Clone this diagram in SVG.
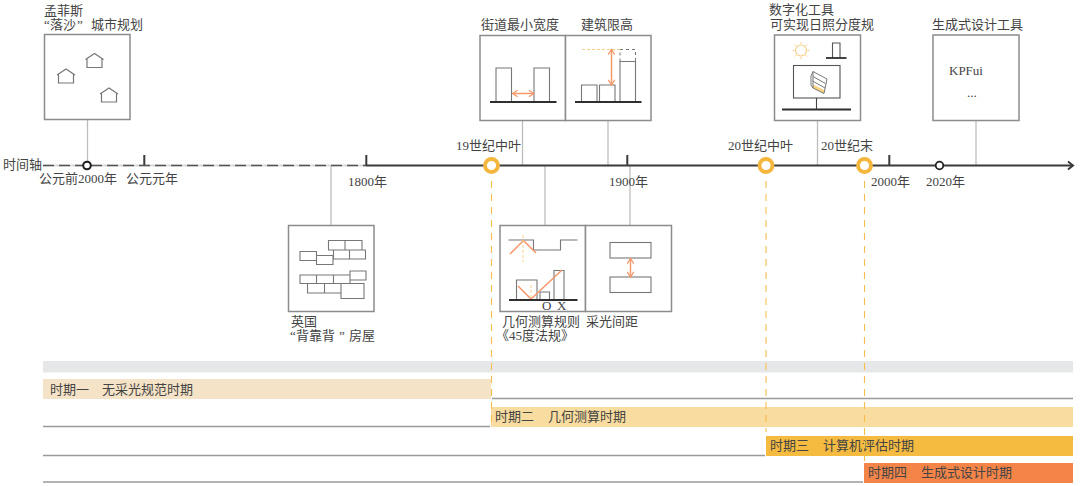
<svg xmlns="http://www.w3.org/2000/svg" width="1080" height="486" viewBox="0 0 1080 486">
<style>
text{font-family:"Liberation Serif","Noto Sans CJK SC",serif;font-size:13px;fill:#444}
.box{fill:#fff;stroke:#8c8c8c;stroke-width:1.5}
.lead{stroke:#bdbdbd;stroke-width:1.3;fill:none}
.thin{fill:none;stroke:#777;stroke-width:1.1}
.ground{stroke:#2e2e2e;stroke-width:1.8;fill:none}
.orange{stroke:#f6986a;stroke-width:1.5;fill:none}
.guide{stroke:#f6bd4f;stroke-width:1.1;stroke-dasharray:7 6;fill:none}
.ax{stroke:#3a3a3a;stroke-width:2;fill:none}
.rule{stroke:#9a9a9a;stroke-width:1.4}
</style>
<defs>
<marker id="ah" viewBox="0 0 8 8" refX="6.500" refY="4" markerWidth="7.500" markerHeight="7.500" markerUnits="userSpaceOnUse" orient="auto-start-reverse"><path d="M1 .5L6.500 4L1 7.500" fill="none" stroke="#f6986a" stroke-width="1.300"/></marker>
<path id="house" d="M-9 0L0 -6L9 0M-7.500 -1V8H7.500V-1" fill="none" stroke="#777" stroke-width="1.200"/>
</defs>
<rect x="43" y="361" width="1030" height="11.500" fill="#e6e7e8"/>
<g id="rules">
<line class="rule" x1="492" y1="398.500" x2="1073" y2="398.500"/>
<line class="rule" x1="43" y1="426.500" x2="490" y2="426.500"/>
<line class="rule" x1="43" y1="455.500" x2="765" y2="455.500"/>
<line class="rule" x1="43" y1="482" x2="863" y2="482"/>
</g>
<g id="period1"><rect x="43" y="379" width="448" height="20" fill="#f5e3c8"/><text x="50" y="394">时期一<tspan x="102">无采光规范时期</tspan></text></g>
<g id="period2"><rect x="491" y="407" width="582" height="20" fill="#f9dc9f"/><text x="495" y="421">时期二<tspan x="548">几何测算时期</tspan></text></g>
<g id="period3"><rect x="766" y="436" width="307" height="20" fill="#f4bb40"/><text x="770" y="450">时期三<tspan x="823">计算机评估时期</tspan></text></g>
<g id="period4"><rect x="864" y="463" width="209" height="20" fill="#f58449"/><text x="868" y="477">时期四<tspan x="921">生成式设计时期</tspan></text></g>
<g id="connectors">
<line class="lead" x1="87.500" y1="120" x2="87.500" y2="165"/>
<line class="lead" x1="331" y1="165" x2="331" y2="225"/>
<line class="lead" x1="522.500" y1="121" x2="522.500" y2="165"/>
<line class="lead" x1="608" y1="121" x2="608" y2="165"/>
<line class="lead" x1="545" y1="166" x2="545" y2="225"/>
<line class="lead" x1="630" y1="166" x2="630" y2="225"/>
<line class="lead" x1="817.500" y1="121" x2="817.500" y2="165"/>
<line class="lead" x1="976" y1="121" x2="976" y2="165"/>
<line class="guide" x1="491.500" y1="181" x2="491.500" y2="427"/>
<line class="guide" x1="766" y1="181" x2="766" y2="432"/>
<line class="guide" x1="864.500" y1="181" x2="864.500" y2="462"/>
</g>
<g id="axis">
<line x1="43" y1="165.500" x2="366" y2="165.500" stroke="#d8d8d8" stroke-width="2.200"/>
<line x1="43" y1="165.500" x2="366" y2="165.500" stroke="#555" stroke-width="1.500" stroke-dasharray="11 5"/>
<line class="ax" x1="366" y1="165.500" x2="1072" y2="165.500"/>
<path class="ax" d="M1068 161.500L1073 165.500L1068 169.500"/>
<path class="ax" stroke-width="1.600" d="M144.300 155V165M366.300 155V165M627.300 155V165M889.300 155V165"/>
<circle cx="87" cy="165.500" r="3.800" fill="#fff" stroke="#1f1f1f" stroke-width="2"/>
<circle cx="939.500" cy="165.500" r="3.800" fill="#fff" stroke="#1f1f1f" stroke-width="1.800"/>
<circle cx="491.500" cy="165.500" r="6.500" fill="#fff" stroke="#f4b63c" stroke-width="3.800"/>
<circle cx="766" cy="165.500" r="6.500" fill="#fff" stroke="#f4b63c" stroke-width="3.800"/>
<circle cx="864.500" cy="165.500" r="6.500" fill="#fff" stroke="#f4b63c" stroke-width="3.800"/>
<text x="3" y="169">时间轴</text>
<text x="39" y="183">公元前2000年</text>
<text x="126" y="183">公元元年</text>
<text x="348" y="186">1800年</text>
<text x="609" y="186">1900年</text>
<text x="871" y="186">2000年</text>
<text x="926" y="186">2020年</text>
<text x="456" y="150">19世纪中叶</text>
<text x="728" y="150">20世纪中叶</text>
<text x="821" y="150">20世纪末</text>
</g>
<g id="node-memphis">
<text x="44" y="15">孟菲斯</text><text x="44" y="29">“<tspan x="50">落沙</tspan><tspan x="77">”</tspan><tspan x="91">城市规划</tspan></text>
<rect class="box" x="44.500" y="34.500" width="85.500" height="85"/>
<use href="#house" x="66" y="75"/><use href="#house" x="94.500" y="59.500"/><use href="#house" x="109" y="94"/>
</g>
<g id="node-street">
<text x="481" y="29">街道最小宽度</text>
<rect class="box" x="480" y="35.500" width="85.500" height="85"/>
<path class="thin" d="M496 102V68H511.500V102M534 102V68H549.500V102"/>
<line class="ground" x1="490" y1="102" x2="556.500" y2="102"/>
<line class="orange" x1="512.500" y1="93.500" x2="534" y2="93.500" marker-start="url(#ah)" marker-end="url(#ah)"/>
</g>
<g id="node-height">
<text x="581" y="29">建筑限高</text>
<rect class="box" x="565.500" y="35.500" width="85.500" height="85"/>
<path class="thin" d="M581.500 102V85H597V102M599.500 102V85H615V102M620 102V61.500H635.500V102"/>
<path d="M620 61.500V49.500H635.500V61.500" fill="none" stroke="#777" stroke-width="1" stroke-dasharray="3 3"/>
<line x1="582" y1="49.500" x2="620" y2="49.500" stroke="#f6cf8a" stroke-width="1" stroke-dasharray="3 2"/>
<line class="ground" x1="575" y1="102" x2="641.500" y2="102"/>
<line class="orange" x1="611.500" y1="49.500" x2="611.500" y2="85" marker-start="url(#ah)" marker-end="url(#ah)"/>
</g>
<g id="node-digital">
<text x="769" y="14">数字化工具</text><text x="770" y="29">可实现日照分度规</text>
<rect class="box" x="774.500" y="35" width="86" height="85.500"/>
<circle cx="801" cy="50.500" r="5.500" fill="none" stroke="#f6cf8a" stroke-width="1.200"/>
<path d="M801 42V44M801 57V59M792.500 50.500H794.500M807.500 50.500H809.500M795 44.500L796.500 46M805.500 55L807 56.500M807 44.500L805.500 46M796.500 55L795 56.500" stroke="#f6cf8a" stroke-width="1"/>
<path d="M832.500 58V43H840V58" fill="none" stroke="#555" stroke-width="1.100"/>
<line class="ground" x1="826" y1="58" x2="846.500" y2="58"/>
<rect x="793.500" y="65.500" width="46.500" height="32.500" fill="none" stroke="#555" stroke-width="1.100"/>
<line x1="816.500" y1="98" x2="816.500" y2="109" stroke="#444" stroke-width="1.100"/>
<line x1="782" y1="109.500" x2="851" y2="109.500" stroke="#2e2e2e" stroke-width="2"/>
<path d="M813 84.500L825 90.500L824 93.500L813 88Z" fill="#f7d27f"/>
<path d="M813 71.500L827 79L824 93.500L813 88ZM811 76L813 71.500M811 76L811 85L813 88M813 76.500L825.500 83.500M812.500 81L825 88" fill="none" stroke="#777" stroke-width="1"/>
</g>
<g id="node-generative">
<text x="932" y="29">生成式设计工具</text>
<rect class="box" x="933" y="35" width="86" height="85.500"/>
<text x="949" y="75">KPFui</text><text x="967" y="97" font-size="10" fill="#888">...</text>
</g>
<g id="node-houses">
<rect class="box" x="288.500" y="225.500" width="85.500" height="86"/>
<path class="thin" d="M328.500 240.500H362V250H328.500ZM345 240.500V250M333.500 250H365.500V259H333.500ZM349.500 250V259M300 251.500H316.500V260.500H300ZM316.500 255.500H333V264.500H316.500Z"/>
<path class="thin" d="M300 275H350V283.500H300ZM316.500 275V283.500M333.500 275V283.500M350 271H366V280H350ZM307.500 283.500H341V293H307.500ZM324.500 283.500V293M341 283.500H364V298.500H341Z"/>
<text x="291" y="326">英国</text><text x="290" y="340">“<tspan x="296">背靠背</tspan><tspan x="339">”</tspan><tspan x="349">房屋</tspan></text>
</g>
<g id="node-geometry">
<rect class="box" x="500" y="225.500" width="85.500" height="86"/>
<path class="thin" d="M508.500 240H533.500V250H560.500V240H577.500"/>
<path class="orange" d="M510 254L523.500 240.500L536 253"/>
<line x1="523" y1="235" x2="523" y2="262" stroke="#f6cf8a" stroke-width="1" stroke-dasharray="3 2"/>
<path class="thin" d="M516.500 300V280H537V300M540 300V292H549.500V300M554 300V270.500H564V300"/>
<path class="orange" d="M518 286L531 299L562 270"/>
<line x1="531" y1="285" x2="531" y2="298" stroke="#f6cf8a" stroke-width="1" stroke-dasharray="3 2"/>
<line class="ground" x1="509" y1="300" x2="577.500" y2="300"/>
<text x="542" y="310" font-size="10">O</text><text x="557" y="310" font-size="10">X</text>
<text x="502" y="326">几何测算规则</text><text x="496" y="340">《45度法规》</text>
</g>
<g id="node-spacing">
<rect class="box" x="585.500" y="225.500" width="86" height="86"/>
<rect x="610" y="242.500" width="41" height="15.500" fill="none" stroke="#777" stroke-width="1.100"/>
<rect x="610" y="277" width="41" height="15.500" fill="none" stroke="#777" stroke-width="1.100"/>
<line class="orange" x1="630.500" y1="258.500" x2="630.500" y2="277" marker-start="url(#ah)" marker-end="url(#ah)"/>
<text x="586" y="326">采光间距</text>
</g>
</svg>
